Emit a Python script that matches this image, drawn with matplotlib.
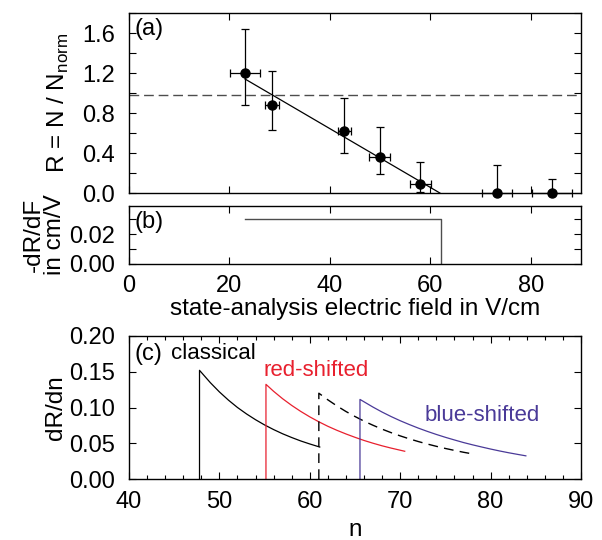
import matplotlib.pyplot as plt
from matplotlib.ticker import MultipleLocator
import numpy as np

plt.rcParams['font.family'] = ['Liberation Sans', 'DejaVu Sans']

# panel (a): measured ratio vs state-analysis field
field = [23.1, 28.5, 42.9, 49.9, 58.0, 73.2, 84.2]
field_err = [3.0, 1.4, 1.3, 2.1, 2.1, 3.0, 4.0]
ratio = [1.20, 0.88, 0.62, 0.36, 0.09, 0.0, 0.0]
ratio_err_lo = [0.32, 0.25, 0.22, 0.17, 0.08, 0.0, 0.0]
ratio_err_hi = [0.44, 0.34, 0.33, 0.30, 0.22, 0.28, 0.14]
norm_level = 0.98
fit_x = [23.1, 61.9]
fit_y = [1.14, 0.0]

# panel (b): derivative of the fit
deriv_x = [23.1, 62.1, 62.1]
deriv_y = [0.030, 0.030, 0.0]

# panel (c): dR/dn distributions
n_cl = [47.8, 47.8, 49, 50, 51, 52, 53, 54, 55, 56, 57, 58, 59, 60, 61.1]
r_cl = [0.0, 0.152, 0.1347, 0.1218, 0.1103, 0.1000, 0.0910, 0.0829, 0.0756,
        0.0691, 0.0632, 0.0580, 0.0532, 0.0490, 0.0447]
n_red = [55.15, 55.15, 56, 57, 58, 59, 60, 61, 62, 63, 64, 65, 66, 67, 68, 69, 70.5]
r_red = [0.0, 0.1324, 0.1226, 0.1122, 0.1029, 0.0945, 0.0869, 0.0800, 0.0737,
         0.0681, 0.0630, 0.0583, 0.0539, 0.0500, 0.0464, 0.0432, 0.0388]
n_dash = [61.0, 61.0, 62, 63, 64, 65, 66, 67, 68, 69, 70, 71, 72, 73, 74, 75, 76, 77, 78.1]
r_dash = [0.0, 0.120, 0.1107, 0.1022, 0.0944, 0.0874, 0.0809, 0.0751, 0.0697,
          0.0648, 0.0603, 0.0562, 0.0524, 0.0489, 0.0457, 0.0427, 0.0400, 0.0374, 0.0349]
n_blue = [65.55, 65.55, 67, 68, 69, 70, 71, 72, 73, 74, 75, 76, 77, 78, 79, 80,
          81, 82, 83, 83.9]
r_blue = [0.0, 0.1113, 0.1005, 0.0936, 0.0873, 0.0815, 0.0762, 0.0712, 0.0666,
          0.0623, 0.0583, 0.0546, 0.0510, 0.0478, 0.0448, 0.0419, 0.0392, 0.0367,
          0.0344, 0.0324]

red = '#e8202e'
blue = '#4a3a98'
tick_fs = 17
lab_fs = 17.5

fig = plt.figure(figsize=(6.02, 5.40), dpi=100)
L, W = 129 / 602, 452 / 602
ax_a = fig.add_axes([L, 1 - 193 / 540, W, 180 / 540])
ax_b = fig.add_axes([L, 1 - 264 / 540, W, 58 / 540])
ax_c = fig.add_axes([L, 1 - 479 / 540, W, 143 / 540])

for ax in (ax_a, ax_b, ax_c):
    ax.tick_params(which='both', direction='in', top=True, right=True,
                   labelsize=tick_fs, width=0.8, pad=10)
    ax.tick_params(which='major', length=5)
    for sp in ax.spines.values():
        sp.set_linewidth(1.0)

# (a)
ax_a.errorbar(field, ratio, xerr=field_err, yerr=[ratio_err_lo, ratio_err_hi],
              fmt='o', color='black', ms=6.5, elinewidth=0.9, capsize=3,
              capthick=0.9, clip_on=False, zorder=5)
ax_a.plot(fit_x, fit_y, color='black', lw=0.9)
ax_a.axhline(norm_level, color='0.3', lw=1.0, dashes=(7, 3.5))
ax_a.set_xlim(0, 90)
ax_a.set_ylim(0, 1.8)
ax_a.xaxis.set_major_locator(MultipleLocator(20))
ax_a.yaxis.set_minor_locator(MultipleLocator(0.2))
ax_a.tick_params(which='minor', length=5, width=0.8)
ax_a.set_xticklabels([])
ax_a.set_yticks([0, 0.4, 0.8, 1.2, 1.6])
ax_a.set_yticklabels(['0.0', '0.4', '0.8', '1.2', '1.6'])
ax_a.set_ylabel(r'R = N / N$_{\mathregular{norm}}$', fontsize=lab_fs)
ax_a.yaxis.set_label_coords(-0.128, 0.5)
ax_a.text(0.012, 0.97, '(a)', transform=ax_a.transAxes, fontsize=17,
          va='top', ha='left')

# (b)
ax_b.plot(deriv_x, deriv_y, color='0.3', lw=1.0)
ax_b.set_xlim(0, 90)
ax_b.set_ylim(0, 0.0387)
ax_b.xaxis.set_major_locator(MultipleLocator(20))
ax_b.set_yticks([0.0, 0.02])
ax_b.set_yticklabels(['0.00', '0.02'])
ax_b.yaxis.set_minor_locator(MultipleLocator(0.01))
ax_b.tick_params(which='minor', length=5, width=0.8)
ax_b.tick_params(axis='x', pad=8)
ax_b.set_ylabel('-dR/dF\nin cm/V', fontsize=lab_fs, linespacing=0.95)
ax_b.yaxis.set_label_coords(-0.14, 0.5)
ax_b.set_xlabel('state-analysis electric field in V/cm', fontsize=lab_fs, labelpad=1)
ax_b.text(0.012, 0.92, '(b)', transform=ax_b.transAxes, fontsize=17,
          va='top', ha='left')

# (c)
ax_c.plot(n_cl, r_cl, color='black', lw=0.9)
ax_c.plot(n_red, r_red, color=red, lw=0.9)
ax_c.plot(n_dash, r_dash, color='black', lw=1.0, dashes=(7, 4.5))
ax_c.plot(n_blue, r_blue, color=blue, lw=0.9)
ax_c.set_xlim(40, 90)
ax_c.set_ylim(0, 0.2)
ax_c.xaxis.set_major_locator(MultipleLocator(10))
ax_c.xaxis.set_minor_locator(MultipleLocator(2))
ax_c.yaxis.set_major_locator(MultipleLocator(0.05))
ax_c.tick_params(which='minor', length=3, width=0.8)
ax_c.tick_params(axis='x', pad=9)
ax_c.yaxis.set_major_formatter(plt.FormatStrFormatter('%.2f'))
ax_c.set_ylabel('dR/dn', fontsize=lab_fs)
ax_c.yaxis.set_label_coords(-0.137, 0.5)
ax_c.set_xlabel('n', fontsize=lab_fs, labelpad=4)
ax_c.text(0.012, 0.95, '(c)', transform=ax_c.transAxes, fontsize=17,
          va='top', ha='left')
ax_c.text(0.092, 0.95, 'classical', transform=ax_c.transAxes, fontsize=16,
          va='top', ha='left')
ax_c.text(0.297, 0.83, 'red-shifted', transform=ax_c.transAxes, fontsize=16,
          va='top', ha='left', color=red)
ax_c.text(0.655, 0.515, 'blue-shifted', transform=ax_c.transAxes, fontsize=16,
          va='top', ha='left', color=blue)

fig.savefig('out.png', dpi=100)
